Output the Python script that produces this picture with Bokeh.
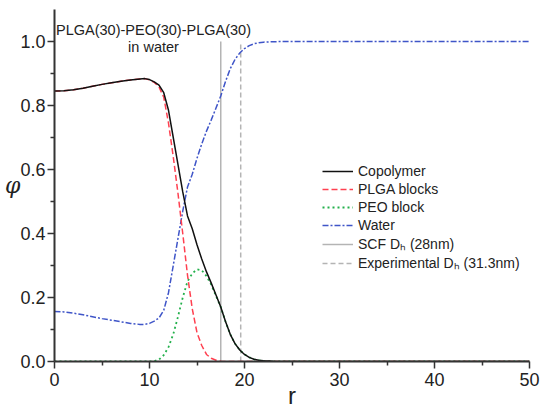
from bokeh.plotting import figure
from bokeh.models import Range1d, Legend, LegendItem, Label, FixedTicker
from bokeh.embed import file_html
from bokeh.resources import INLINE

# ---- data ----
r = [0, 1, 2, 3, 4, 5, 6, 7, 8, 9, 9.5, 10, 10.5, 11, 11.5, 12, 12.5, 13, 13.5,
     14, 14.5, 15, 15.5, 16, 16.5, 17, 17.5, 18, 18.5, 19, 19.5, 20, 20.5, 21,
     21.5, 22, 23, 25, 30, 40, 50]

copolymer = [0.845, 0.846, 0.849, 0.854, 0.860, 0.866, 0.871, 0.876, 0.880, 0.883,
             0.884, 0.881, 0.874, 0.864, 0.840, 0.785, 0.700, 0.615, 0.530,
             0.455, 0.415, 0.365, 0.320, 0.280, 0.245, 0.208, 0.170, 0.125, 0.085,
             0.056, 0.036, 0.022, 0.013, 0.007, 0.004, 0.002, 0.0005, 0.0, 0.0, 0.0, 0.0]

plga = [0.845, 0.846, 0.849, 0.854, 0.860, 0.866, 0.871, 0.876, 0.880, 0.883,
        0.884, 0.880, 0.872, 0.858, 0.826, 0.745, 0.640, 0.525, 0.400,
        0.270, 0.165, 0.090, 0.050, 0.022, 0.010, 0.004, 0.001, 0.0, 0.0,
        0.0, 0.0, 0.0, 0.0, 0.0, 0.0, 0.0, 0.0, 0.0, 0.0, 0.0, 0.0]

peo = [0.0, 0.0, 0.0, 0.0, 0.0, 0.0, 0.0, 0.0, 0.0, 0.0,
       0.0, 0.0, 0.001, 0.006, 0.020, 0.045, 0.085, 0.140, 0.200,
       0.250, 0.275, 0.288, 0.285, 0.267, 0.240, 0.205, 0.170, 0.125, 0.085,
       0.056, 0.036, 0.022, 0.013, 0.007, 0.004, 0.002, 0.0005, 0.0, 0.0, 0.0, 0.0]

water = [0.156, 0.155, 0.151, 0.146, 0.140, 0.134, 0.129, 0.124, 0.119, 0.116,
         0.116, 0.119, 0.126, 0.136, 0.160, 0.215, 0.300, 0.385, 0.470,
         0.545, 0.585, 0.635, 0.680, 0.720, 0.755, 0.792, 0.830, 0.875, 0.915,
         0.944, 0.964, 0.978, 0.987, 0.993, 0.996, 0.998, 0.9995, 1.0, 1.0, 1.0, 1.0]

scf_dh = 17.5      # SCF D_h position
exp_dh = 19.6      # experimental D_h position
vline_y = [0.0, 1.0]

x_ticks = [0, 10, 20, 30, 40, 50]
y_ticks = [0.0, 0.2, 0.4, 0.6, 0.8, 1.0]

# ---- figure ----
p = figure(width=541, height=412, output_backend="svg", toolbar_location=None,
           x_range=Range1d(0, 50), y_range=Range1d(0, 1.1),
           min_border_left=54, min_border_right=12, min_border_top=9,
           min_border_bottom=51)
p.outline_line_color = None
p.grid.visible = False
p.background_fill_color = "white"

font = "Liberation Sans"
axis_col = "#333333"
for ax in (p.xaxis[0], p.yaxis[0]):
    ax.axis_line_width = 2
    ax.axis_line_color = axis_col
    ax.major_tick_line_color = axis_col
    ax.minor_tick_line_color = axis_col
    ax.major_tick_line_width = 1.5
    ax.minor_tick_line_width = 1.5
    ax.major_tick_out = 7
    ax.major_tick_in = 0
    ax.minor_tick_out = 4
    ax.minor_tick_in = 0
    ax.major_label_text_font = font
    ax.major_label_text_font_size = "18px"
    ax.major_label_text_color = "#222222"

p.xaxis.ticker = FixedTicker(ticks=x_ticks, minor_ticks=[5, 15, 25, 35, 45])
p.yaxis.ticker = FixedTicker(ticks=y_ticks, minor_ticks=[0.1, 0.3, 0.5, 0.7, 0.9])
p.yaxis.major_label_overrides = {t: f"{t:.1f}" for t in y_ticks}
p.xaxis.major_label_standoff = 4
p.yaxis.major_label_standoff = 2

p.xaxis.axis_label = "r"
p.xaxis.axis_label_text_font = font
p.xaxis.axis_label_text_font_style = "normal"
p.xaxis.axis_label_text_font_size = "24px"
p.xaxis.axis_label_standoff = -7
p.xaxis.axis_label_text_color = "#222222"

p.yaxis.axis_label = "φ"
p.yaxis.axis_label_orientation = "horizontal"
p.yaxis.axis_label_text_font = "DejaVu Serif"
p.yaxis.axis_label_text_font_style = "italic"
p.yaxis.axis_label_text_font_size = "22px"
p.yaxis.axis_label_standoff = -3
p.yaxis.axis_label_text_color = "#222222"

# ---- lines ----
c_gray = "#b4b4b4"
r_scf = p.line([scf_dh, scf_dh], vline_y, line_color=c_gray, line_width=1.5)
r_exp = p.line([exp_dh, exp_dh], vline_y, line_color=c_gray, line_width=1.5,
               line_dash="5 3")
r_water = p.line(r, water, line_color="#3f55c8", line_width=1.5, line_dash="6 2 2 2")
r_peo = p.line(r, peo, line_color="#22b04b", line_width=1.8, line_dash="2 3")
r_plga = p.line(r, plga, line_color="#ff4050", line_width=1.5, line_dash="6 3")
r_cop = p.line(r, copolymer, line_color="#111111", line_width=1.5)

legend = Legend(items=[
    LegendItem(label="Copolymer", renderers=[r_cop]),
    LegendItem(label="PLGA blocks", renderers=[r_plga]),
    LegendItem(label="PEO block", renderers=[r_peo]),
    LegendItem(label="Water", renderers=[r_water]),
    LegendItem(label="SCF Dₕ (28nm)", renderers=[r_scf]),
    LegendItem(label="Experimental Dₕ (31.3nm)", renderers=[r_exp]),
], location=(268, 89))
legend.border_line_color = None
legend.background_fill_alpha = 0
legend.padding = 0
legend.margin = 0
legend.spacing = 0
legend.glyph_width = 31
legend.glyph_height = 18
legend.label_height = 18
legend.label_standoff = 5
legend.label_text_font = font
legend.label_text_font_size = "14px"
legend.label_text_color = "#222222"
p.add_layout(legend, "center")

p.add_layout(Label(x=10.42, y=1.036, text="PLGA(30)-PEO(30)-PLGA(30)",
                   text_align="center", text_baseline="middle",
                   text_font=font, text_font_size="14.5px", text_color="#222222"))
p.add_layout(Label(x=10.42, y=0.984, text="in water",
                   text_align="center", text_baseline="middle",
                   text_font=font, text_font_size="14.5px", text_color="#222222"))

open("out.html", "w").write(file_html(p, INLINE))
